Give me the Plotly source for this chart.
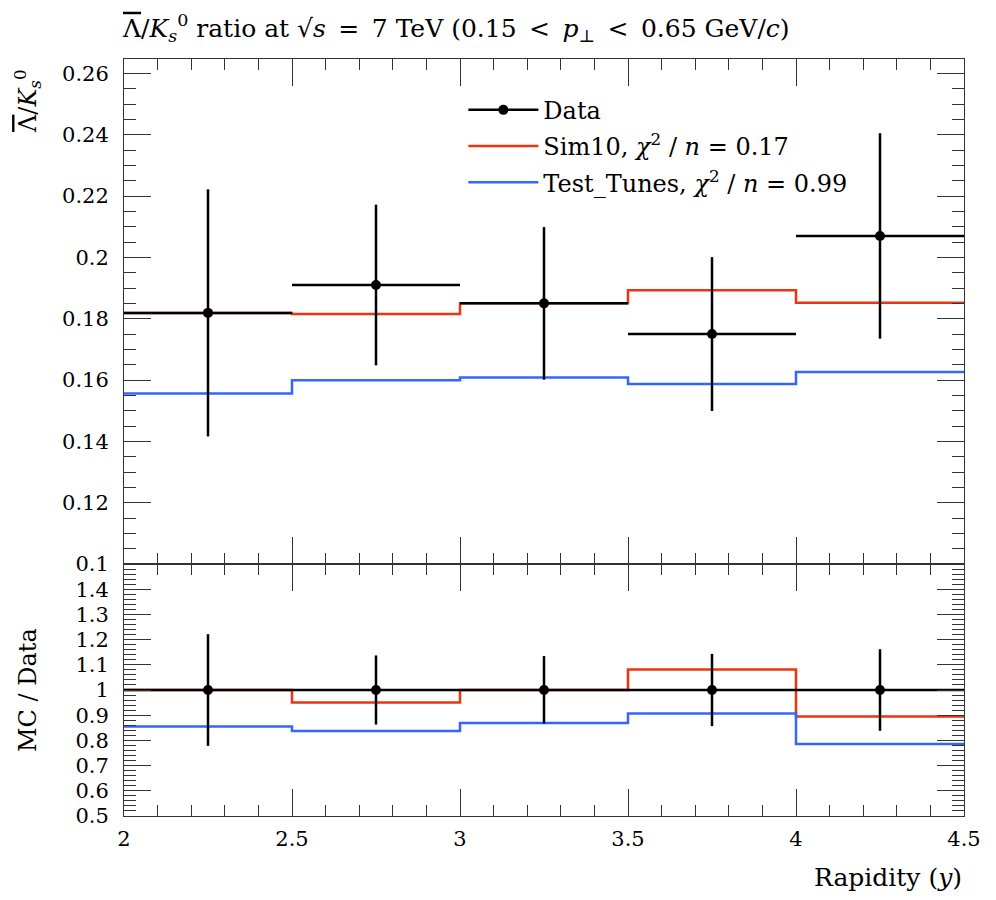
import plotly.graph_objects as go

# ---- data ----
bin_edges = [2.0, 2.5, 3.0, 3.5, 4.0, 4.5]
bin_centers = [2.25, 2.75, 3.25, 3.75, 4.25]
bin_halfwidth = [0.25, 0.25, 0.25, 0.25, 0.25]
data_vals = [0.1819, 0.1910, 0.1850, 0.1750, 0.2070]
data_errs = [0.0403, 0.0262, 0.0249, 0.0251, 0.0335]
sim10_vals = [0.1819, 0.1815, 0.1850, 0.1893, 0.1852]
tunes_vals = [0.1556, 0.1599, 0.1608, 0.1587, 0.1626]

main_yticks = [0.1, 0.12, 0.14, 0.16, 0.18, 0.2, 0.22, 0.24, 0.26]
ratio_yticks = [0.5, 0.6, 0.7, 0.8, 0.9, 1.0, 1.1, 1.2, 1.3, 1.4]
x_ticks = [2, 2.5, 3, 3.5, 4, 4.5]
x_ticklabels = ["2", "2.5", "3", "3.5", "4", "4.5"]

SP = "\u2002"
LBAR = "<span style='text-decoration:overline'>Λ</span>"
title_text = (LBAR + "/<i>K</i><sub><i>s</i></sub><sup>0</sup> ratio at √<i>s</i>"
              + SP + "=" + SP + "7 TeV (0.15" + SP + "<" + SP + "<i>p</i><sub>⊥</sub>"
              + SP + "<" + SP + "0.65 GeV/<i>c</i>)")
legend_names = ["Data", "Sim10, <i>χ</i><sup>2</sup> / <i>n</i> = 0.17",
                "Test_Tunes, <i>χ</i><sup>2</sup> / <i>n</i> = 0.99"]

RED = "#EE3311"
BLUE = "#3366FF"
FONT = "DejaVu Serif"
AX = "#333333"

ratio_data = [1.0 for _ in data_vals]
ratio_errs = [e / v for e, v in zip(data_errs, data_vals)]
ratio_sim10 = [s / d for s, d in zip(sim10_vals, data_vals)]
ratio_tunes = [t / d for t, d in zip(tunes_vals, data_vals)]


def step_y(vals):
    return list(vals) + [vals[-1]]


fig = go.Figure()

# main panel
fig.add_trace(go.Scatter(x=bin_edges, y=step_y(sim10_vals), mode="lines", line_shape="hv",
                         line=dict(color=RED, width=2.5), name=legend_names[1],
                         legendgroup="b", xaxis="x", yaxis="y", legendrank=2))
fig.add_trace(go.Scatter(x=bin_edges, y=step_y(tunes_vals), mode="lines", line_shape="hv",
                         line=dict(color=BLUE, width=2.5), name=legend_names[2],
                         legendgroup="c", xaxis="x", yaxis="y", legendrank=3))
fig.add_trace(go.Scatter(x=bin_centers, y=data_vals, mode="markers",
                         marker=dict(color="black", size=10),
                         error_y=dict(type="data", array=data_errs, color="black", thickness=2.5, width=0),
                         error_x=dict(type="data", array=bin_halfwidth, color="black", thickness=2.5, width=0),
                         showlegend=False, xaxis="x", yaxis="y"))
# legend entry for data
fig.add_trace(go.Scatter(x=[None], y=[None], mode="lines+markers",
                         line=dict(color="black", width=2.5),
                         marker=dict(color="black", size=10),
                         name=legend_names[0], legendgroup="a",
                         xaxis="x", yaxis="y", legendrank=1))

# ratio panel
fig.add_trace(go.Scatter(x=bin_edges, y=step_y(ratio_sim10), mode="lines", line_shape="hv",
                         line=dict(color=RED, width=2.5), showlegend=False,
                         xaxis="x2", yaxis="y2"))
fig.add_trace(go.Scatter(x=bin_edges, y=step_y(ratio_tunes), mode="lines", line_shape="hv",
                         line=dict(color=BLUE, width=2.5), showlegend=False,
                         xaxis="x2", yaxis="y2"))
fig.add_trace(go.Scatter(x=bin_centers, y=ratio_data, mode="markers",
                         marker=dict(color="black", size=10),
                         error_y=dict(type="data", array=ratio_errs, color="black", thickness=2.5, width=0),
                         error_x=dict(type="data", array=bin_halfwidth, color="black", thickness=2.5, width=0),
                         showlegend=False, xaxis="x2", yaxis="y2"))

split = 252 / 757

common_x = dict(range=[2, 4.5], showgrid=False, zeroline=False, showline=True, linecolor=AX,
                linewidth=1, mirror="allticks", ticks="inside", ticklen=27, tickcolor=AX,
                tickvals=x_ticks, ticktext=x_ticklabels,
                minor=dict(dtick=0.1, ticks="inside", ticklen=11, tickcolor=AX))
common_y = dict(showgrid=False, zeroline=False, showline=True, linecolor=AX, linewidth=1,
                mirror="allticks", ticks="inside", ticklen=27, tickcolor=AX)

fig.update_layout(
    width=996, height=900,
    margin=dict(l=124, r=32, t=59, b=84),
    paper_bgcolor="white", plot_bgcolor="white",
    font=dict(family=FONT, size=21, color="black"),
    title=dict(text=title_text, x=0.1235, xanchor="left", xref="container",
               y=1 - 28 / 900, yanchor="middle", yref="container",
               font=dict(family=FONT, size=25)),
    xaxis=dict(common_x, domain=[0, 1], anchor="y", showticklabels=False, matches="x2"),
    yaxis=dict(common_y, domain=[split, 1], anchor="x", range=[0.1, 0.2647],
               tickvals=main_yticks, ticklabelstandoff=10,
               minor=dict(dtick=0.005, tick0=0.1, ticks="inside", ticklen=12, tickcolor=AX)),
    xaxis2=dict(common_x, domain=[0, 1], anchor="y2", showticklabels=True, ticklabelstandoff=4),
    yaxis2=dict(common_y, domain=[0, split], anchor="x2", range=[0.5, 1.5],
                tickvals=ratio_yticks, ticklabelstandoff=10,
                minor=dict(dtick=0.02, tick0=0.5, ticks="inside", ticklen=12, tickcolor=AX)),
    legend=dict(x=0.404, y=0.962, xanchor="left", yanchor="top", bgcolor="rgba(0,0,0,0)",
                font=dict(family=FONT, size=24), itemwidth=70, traceorder="grouped",
                tracegroupgap=2),
    showlegend=True,
    annotations=[
        dict(text=LBAR + "/<i>K</i><sub><i>s</i></sub><sup>0</sup>", xref="paper", yref="paper",
             x=0, xshift=-97, y=1, yshift=-8, xanchor="center", yanchor="top",
             textangle=-90, showarrow=False, font=dict(family=FONT, size=24)),
        dict(text="MC / Data", xref="paper", yref="paper",
             x=0, xshift=-96, y=(816 - 690) / 757, xanchor="center", yanchor="middle",
             textangle=-90, showarrow=False, font=dict(family=FONT, size=24)),
        dict(text="Rapidity (<i>y</i>)", xref="paper", yref="paper",
             x=1, y=0, yshift=-61, xanchor="right", yanchor="middle",
             showarrow=False, font=dict(family=FONT, size=25)),
    ],
)

fig.write_html("out.html", config={"displayModeBar": False},
               post_script="document.body.style.margin='0px';")
